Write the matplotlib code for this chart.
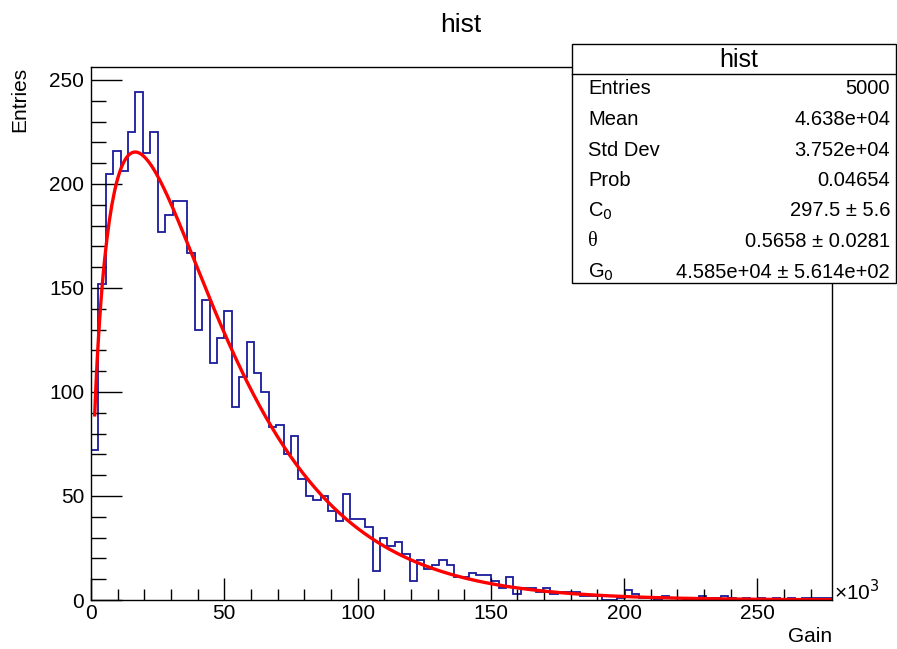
import math
import numpy as np
import matplotlib
matplotlib.use("Agg")
import matplotlib.pyplot as plt
from matplotlib.patches import Rectangle
from matplotlib.lines import Line2D

plt.rcParams['font.family'] = ['Liberation Sans', 'DejaVu Sans']

# histogram: 100 bins in Gain (x10^3)
x_min, x_max, n_bins = 0.0, 278.0, 100
counts = [72, 152, 205, 216, 206, 225, 244, 215, 225, 177,
          185, 192, 192, 167, 130, 144, 114, 126, 139, 93,
          107, 124, 109, 100, 83, 84, 70, 79, 58, 50,
          48, 50, 43, 38, 51, 39, 39, 35, 14, 30,
          26, 28, 22, 9, 19, 15, 17, 19, 17, 11,
          11, 13, 12, 12, 9, 6, 11, 3, 6, 6,
          4, 6, 3, 4, 4, 4, 2, 2, 2, 0,
          0, 1, 5, 3, 1, 1, 0, 2, 1, 1,
          0, 1, 2, 1, 1, 2, 1, 0, 1, 0,
          1, 0, 1, 0, 1, 0, 1, 1, 1, 1]

# fit parameters (Polya)
C0, theta, G0 = 297.5, 0.5658, 4.585e4

stat_names = ["Entries", "Mean", "Std Dev", "Prob", "C$_{0}$", "θ", "G$_{0}$"]
stat_values = ["5000", "4.638e+04", "3.752e+04", "0.04654",
               "297.5 ± 5.6", "0.5658 ± 0.0281", "4.585e+04 ± 5.614e+02"]

W, H = 897, 649


def fx(px):
    return px / W


def fy(py):
    return 1 - py / H


def polya(x):
    g = x * 1e3 / G0
    norm = (1 + theta) ** (1 + theta) / math.gamma(1 + theta)
    return C0 * norm * g ** theta * np.exp(-(1 + theta) * g)


def main():
    fig = plt.figure(figsize=(W / 100, H / 100), dpi=100)
    ax = fig.add_axes([fx(91), fy(600), fx(832) - fx(91), fy(67) - fy(600)])

    edges = np.linspace(x_min, x_max, n_bins + 1)
    ax.stairs(counts, edges, color="#1a1a9c", lw=1.3, baseline=None)
    centers = 0.5 * (edges[:-1] + edges[1:])
    xf = np.linspace(centers[0], x_max, 600)
    ax.plot(xf, polya(xf), color="red", lw=2.4)

    ax.set_xlim(x_min, x_max)
    ax.set_ylim(0, 1.05 * max(counts))
    ax.set_xticks(np.arange(0, 251, 50))
    ax.set_xticks(np.arange(0, 278, 10), minor=True)
    ax.set_yticks(np.arange(0, 251, 50))
    ax.set_yticks(np.arange(0, 256, 10), minor=True)
    ax.tick_params(which="both", direction="in", top=False, right=False,
                   labelsize=15, width=1, color="black")
    ax.tick_params(axis="y", which="major", length=22, pad=5)
    ax.tick_params(axis="y", which="minor", length=11)
    ax.tick_params(axis="x", which="major", length=16, pad=3)
    ax.tick_params(axis="x", which="minor", length=8)
    for s in ax.spines.values():
        s.set_linewidth(1)

    fig.text(fx(461), fy(25), "hist", ha="center", va="center", fontsize=19)
    fig.text(fx(832), fy(637), "Gain", ha="right", va="center", fontsize=15)
    fig.text(fx(20), fy(67), "Entries", ha="center", va="top",
             rotation=90, fontsize=15)
    fig.text(fx(834), fy(592), "×10$^{3}$", ha="left", va="center", fontsize=15)

    # stats box
    bx0, by0, bx1, by1 = 572, 44, 896, 283
    fig.patches.append(Rectangle((fx(bx0), fy(by1)), fx(bx1) - fx(bx0),
                                 fy(by0) - fy(by1), transform=fig.transFigure,
                                 facecolor="white", edgecolor="black", lw=1))
    fig.lines.append(Line2D([fx(bx0), fx(bx1)], [fy(74), fy(74)],
                            transform=fig.transFigure, color="black", lw=1))
    fig.text(fx(739), fy(60), "hist", ha="center", va="center", fontsize=18)
    for i, (name, val) in enumerate(zip(stat_names, stat_values)):
        y = 89 + i * 30.5
        fam = ['Liberation Serif', 'DejaVu Serif'] if name == "θ" else None
        fig.text(fx(588), fy(y), name, ha="left", va="center", fontsize=14.5,
                 family=fam)
        fig.text(fx(890), fy(y), val, ha="right", va="center", fontsize=14.5)

    fig.savefig("out.png", dpi=100)


if __name__ == '__main__':
    main()
